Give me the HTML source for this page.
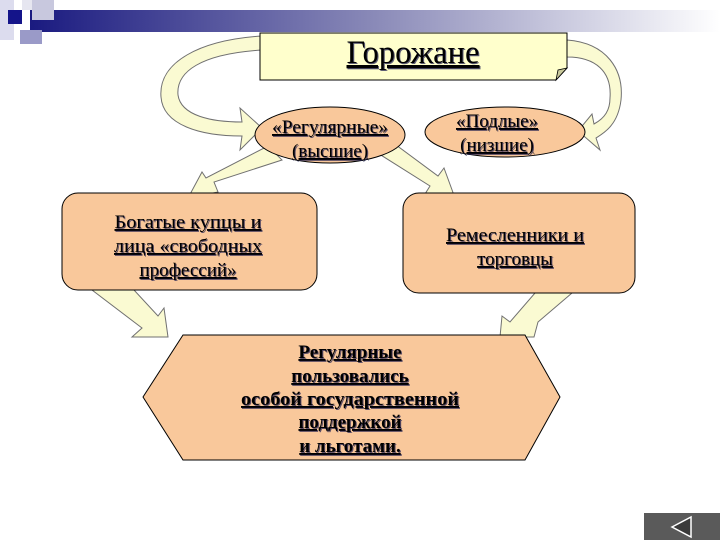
<!DOCTYPE html>
<html><head><meta charset="utf-8"><style>
body{margin:0;background:#fff;}
svg{display:block;}
text{font-family:"Liberation Serif",serif;text-decoration:underline;fill:#000;}
</style></head><body>
<svg width="720" height="540" viewBox="0 0 720 540">
<defs>
<linearGradient id="g" x1="0" x2="1"><stop offset="0" stop-color="#1a1a80"/><stop offset="0.5" stop-color="#8a8ab8"/><stop offset="1" stop-color="#fff"/></linearGradient>
<filter id="sh"><feDropShadow dx="1" dy="1" stdDeviation="0.3" flood-color="#1a1a50" flood-opacity="0.7"/></filter>
</defs>
<rect x="30" y="10" width="690" height="22" fill="url(#g)"/>
<rect x="0" y="0" width="14" height="40" fill="#dcdcee"/>
<rect x="8" y="10" width="14" height="14" fill="#14148a"/>
<rect x="22" y="0" width="30" height="10" fill="#e6e6f0"/>
<rect x="32" y="0" width="22" height="20" fill="#c8c8de"/>
<rect x="20" y="30" width="22" height="14" fill="#9a9ac8"/>
<g fill="#fafad2" stroke="#707070" stroke-width="1">
<path d="M262,50 C200,54 176,72 178,95 C181,116 212,122 242,122 L240,108 L262,128 L240,150 L242,136 C200,136 163,125 161,97 C158,62 200,40 262,36 Z"/>
<path d="M567,40 C607,43 624,70 621,100 C618,125 604,133 596,138 L600,150 L578,131 L592,114 L594,124 C605,118 610,110 610,98 C612,72 596,57 567,57 Z"/>
<path d="M268,146 L282,160 L214,182 L218,192 L188,198 L202,172 L206,178 Z"/>
<path d="M376,152 L392,142 L438,176 L444,168 L455,198 L425,194 L430,186 Z"/>
<path d="M92,290 L134,290 L158,316 L164,308 L168,337 L132,337 L142,328 Z"/>
<path d="M535,293 L572,293 L538,322 L534,337 L500,337 L502,316 L510,322 Z"/>
</g>
<path d="M260,33 H567 V68 L556,80 H260 Z" fill="#ffffcc" stroke="#000" stroke-width="1"/>
<path d="M567,68 L556,80 L558,70 Z" fill="#c8c89a" stroke="#000" stroke-width="0.8"/>
<ellipse cx="330" cy="135" rx="75" ry="28" fill="#f9c89b" stroke="#000"/>
<ellipse cx="505" cy="132" rx="80" ry="25" fill="#f9c89b" stroke="#000"/>
<rect x="62" y="193" width="255" height="97" rx="16" fill="#f9c89b" stroke="#000"/>
<rect x="403" y="193" width="232" height="100" rx="16" fill="#f9c89b" stroke="#000"/>
<path d="M183,335 H525 L560,397 L525,460 H183 L143,397 Z" fill="#f9c89b" stroke="#000"/>
<g filter="url(#sh)">
<text x="413" y="63" font-size="33" text-anchor="middle" textLength="133" lengthAdjust="spacingAndGlyphs">Горожане</text>
<text x="330" y="133" font-size="19" text-anchor="middle" textLength="116" lengthAdjust="spacingAndGlyphs">«Регулярные»</text>
<text x="330" y="157" font-size="19" text-anchor="middle">(высшие)</text>
<text x="497" y="127" font-size="19" text-anchor="middle">«Подлые»</text>
<text x="497" y="151" font-size="19" text-anchor="middle">(низшие)</text>
<text x="188" y="228" font-size="19" text-anchor="middle" textLength="147" lengthAdjust="spacingAndGlyphs">Богатые купцы и</text>
<text x="188" y="252" font-size="19" text-anchor="middle" textLength="148" lengthAdjust="spacingAndGlyphs">лица «свободных</text>
<text x="188" y="276" font-size="19" text-anchor="middle">профессий»</text>
<text x="515" y="241" font-size="19" text-anchor="middle" textLength="138" lengthAdjust="spacingAndGlyphs">Ремесленники и</text>
<text x="515" y="265" font-size="19" text-anchor="middle">торговцы</text>
<g font-weight="bold" font-size="19" text-anchor="middle">
<text x="350" y="358">Регулярные</text>
<text x="350" y="382">пользовались</text>
<text x="350" y="405" textLength="218" lengthAdjust="spacingAndGlyphs">особой государственной</text>
<text x="350" y="428">поддержкой</text>
<text x="350" y="452">и льготами.</text>
</g>
</g>
<rect x="644" y="513" width="76" height="27" fill="#5a5a5a"/>
<path d="M672,527 L691,517 L691,537 Z" fill="#3a3a3a" stroke="#fff" stroke-width="1.5"/>
</svg>
</body></html>
